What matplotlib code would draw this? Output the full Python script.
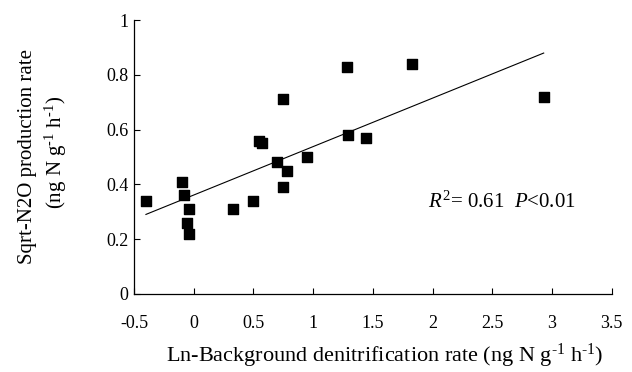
import numpy as np
import matplotlib
matplotlib.use("Agg")
import matplotlib.pyplot as plt

# values
ln_denit = [-0.40, -0.10, -0.08, -0.06, -0.04, -0.04, 0.33, 0.50, 0.55, 0.57,
            0.70, 0.75, 0.75, 0.78, 0.95, 1.28, 1.29, 1.44, 1.83, 2.93]
sqrt_n2o = [0.34, 0.41, 0.36, 0.26, 0.31, 0.22, 0.31, 0.34, 0.56, 0.55,
            0.48, 0.71, 0.39, 0.45, 0.50, 0.83, 0.58, 0.57, 0.84, 0.72]
fit_slope = 0.177
fit_intercept = 0.361
x_ticks = [-0.5, 0, 0.5, 1, 1.5, 2, 2.5, 3, 3.5]
x_tick_labels = ["-0.5", "0", "0.5", "1", "1.5", "2", "2.5", "3", "3.5"]
y_ticks = [0, 0.2, 0.4, 0.6, 0.8, 1]
y_tick_labels = ["0", "0.2", "0.4", "0.6", "0.8", "1"]

plt.rcParams["font.family"] = ["Liberation Serif", "DejaVu Serif"]
plt.rcParams["mathtext.fontset"] = "custom"
plt.rcParams["mathtext.rm"] = "Liberation Serif"
plt.rcParams["mathtext.it"] = "Liberation Serif:italic"

fig = plt.figure(figsize=(6.32, 3.72), dpi=100)
ax = fig.add_axes([0.212, 0.21, 0.756, 0.736])

ax.scatter(ln_denit, sqrt_n2o, marker="s", s=46, color="black", zorder=3)

xs = np.array([min(ln_denit), max(ln_denit)])
ax.plot(xs, fit_slope * xs + fit_intercept, color="black", lw=0.8)

ax.set_xlim(-0.5, 3.5)
ax.set_ylim(0, 1)
ax.set_xticks(x_ticks)
ax.set_xticklabels(x_tick_labels)
ax.set_yticks(y_ticks)
ax.set_yticklabels(y_tick_labels)
ax.tick_params(direction="in", length=4, width=0.8, labelsize=13)
ax.tick_params(axis="x", pad=15)
ax.tick_params(axis="y", pad=4)

for side in ["top", "right"]:
    ax.spines[side].set_visible(False)
for side in ["left", "bottom"]:
    ax.spines[side].set_linewidth(0.9)

units = r"(ng N g$^{\text{-1}}$ h$^{\text{-1}}$)"
fig.text(0.609, 0.042, "Ln-Background denitrification rate " + units,
         ha="center", va="center", fontsize=16)
fig.text(0.044, 0.578, "Sqrt-N2O production rate", rotation=90,
         ha="center", va="center", fontsize=15)
fig.text(0.088, 0.59, units, rotation=90,
         ha="center", va="center", fontsize=15)

ax.text(1.96, 0.314, r"$R^{2}$= 0.61  $P$<0.01", fontsize=15)

fig.savefig("out.png", dpi=100)
